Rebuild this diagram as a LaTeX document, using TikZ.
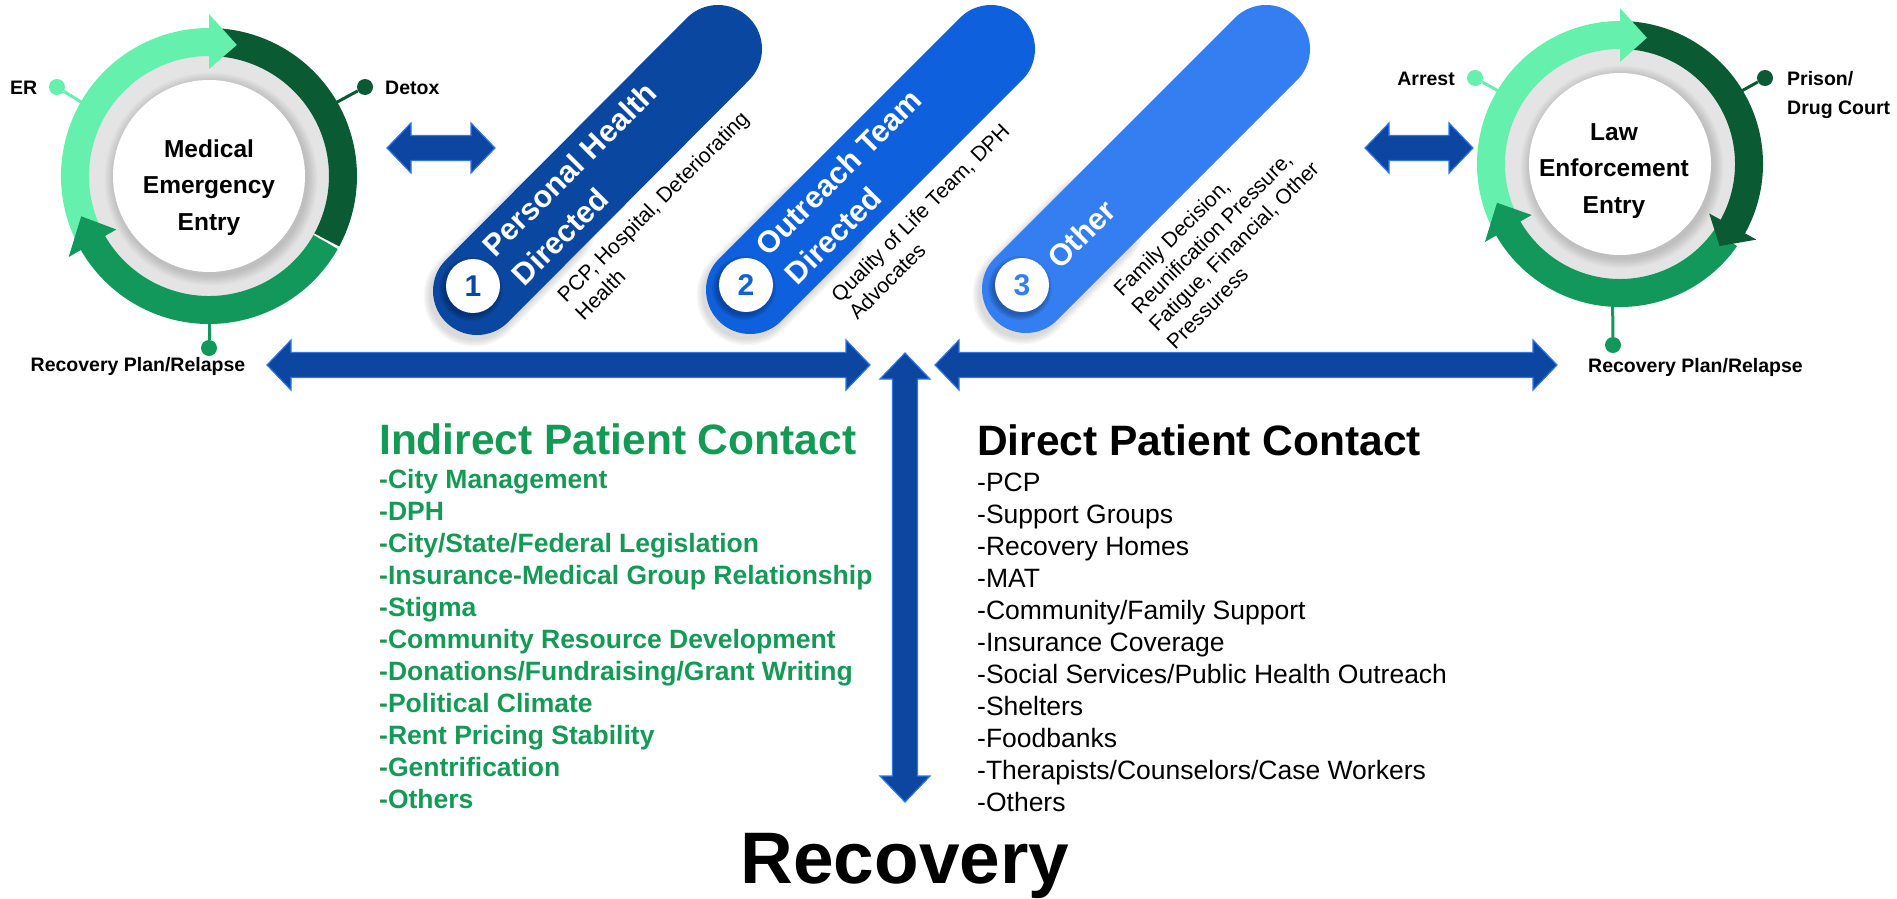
\documentclass[tikz,border=0pt]{standalone}
\usepackage{fontspec}
\setmainfont{Liberation Sans}
\usetikzlibrary{calc}
\definecolor{lgreen}{HTML}{66F0AE}
\definecolor{dgreen}{HTML}{0A5A34}
\definecolor{mgreen}{HTML}{12985A}
\definecolor{txtgreen}{HTML}{139A55}
\definecolor{pillA}{HTML}{0A47A1}
\definecolor{pillB}{HTML}{0E60DD}
\definecolor{pillC}{HTML}{347EF1}
\definecolor{arrowfill}{HTML}{0C46A0}
\definecolor{arrowline}{HTML}{2F74EA}
\definecolor{ringgray}{HTML}{E4E4E4}
\begin{document}
\begin{tikzpicture}[x=1pt,y=-1pt,
  bigarrow/.style={fill=arrowfill,draw=arrowline,line width=1.2pt,line join=miter},
  lbl/.style={inner sep=0pt,font=\fontsize{19.5}{22}\selectfont\bfseries},
  ctitle/.style={inner sep=0pt,anchor=base,font=\fontsize{24.5}{28}\selectfont\bfseries},
  ptitle/.style={inner sep=0pt,rotate=45,anchor=base west,text=white,font=\fontsize{30.5}{34}\selectfont\bfseries},
  pdesc/.style={inner sep=0pt,rotate=45,anchor=base west,font=\fontsize{21}{25}\selectfont},
  numdisc/.style={circle,fill=white,minimum size=54pt,inner sep=0pt,font=\fontsize{30}{34}\selectfont\bfseries},
  dotnode/.style={circle,inner sep=0pt,minimum size=16pt},
  glist/.style={inner sep=0pt,anchor=base west,text=txtgreen,font=\fontsize{26.5}{30}\selectfont\bfseries},
  dlist/.style={inner sep=0pt,anchor=base west,font=\fontsize{26.5}{30}\selectfont},
  ring/.style={line width=28pt}
]
\useasboundingbox (0,0) rectangle (1897,899);

%================ LEFT CIRCLE =================
\coordinate (LC) at (209,176);
\node[dotnode,fill=lgreen] (erdot) at (57,87) {};
\coordinate (erring) at ($(LC)+(210:146)$);
\draw[lgreen,line width=3pt] (erdot) -- (erring);
\node[dotnode,fill=dgreen] (dxdot) at (365,87) {};
\coordinate (dxring) at ($(LC)+(330:146)$);
\draw[dgreen,line width=3pt] (dxdot) -- (dxring);
\node[dotnode,fill=mgreen] (rldot) at (209,348) {};
\coordinate (rlring) at ($(LC)+(90:146)$);
\draw[mgreen,line width=3pt] (rldot) -- (rlring);

\fill[ringgray] (LC) circle[radius=121];
\foreach \k in {1,...,8} \fill[black,opacity=0.02] ($(LC)+(2,3)$) circle[radius={96+\k*1.3}];
\fill[white] (LC) circle[radius=96];

\draw[ring,lgreen] ($(LC)+(155:134)$) arc[start angle=155,end angle=271,radius=134];
\draw[ring,dgreen] ($(LC)+(274:134)$) arc[start angle=274,end angle=388.5,radius=134];
\draw[ring,mgreen] ($(LC)+(29.5:134)$) arc[start angle=29.5,end angle=151,radius=134];
\fill[lgreen] ($(LC)+(270:107)$) -- ($(LC)+(270:162)$) -- ($(LC)+(282:134)$) -- cycle;
\fill[mgreen] ($(LC)+(150:107)$) -- ($(LC)+(150:162)$) -- ($(LC)+(162.5:134)$) -- cycle;

\node[ctitle] (lt1) at (209,157) {Medical};
\node[ctitle] (lt2) at (209,193.5) {Emergency};
\node[ctitle] (lt3) at (209,230) {Entry};
\node[lbl,anchor=base west] (er) at (10,94) {ER};
\node[lbl,anchor=base west] (detox) at (385,94) {Detox};
\node[lbl,anchor=base] (rpl) at (138,371) {Recovery Plan/Relapse};

%================ RIGHT CIRCLE =================
\coordinate (RC) at (1620,164);
\node[dotnode,fill=lgreen] (ardot) at (1475,78) {};
\coordinate (arring) at ($(RC)+(211:141)$);
\draw[lgreen,line width=3pt] (ardot) -- (arring);
\node[dotnode,fill=dgreen] (prdot) at (1765,78) {};
\coordinate (prring) at ($(RC)+(329:141)$);
\draw[dgreen,line width=3pt] (prdot) -- (prring);
\node[dotnode,fill=mgreen] (rrdot) at (1613,345) {};
\coordinate (rrring) at ($(RC)+(93:141)$);
\draw[mgreen,line width=3pt] (rrdot) -- (rrring);

\fill[ringgray] (RC) circle[radius=116];
\foreach \k in {1,...,8} \fill[black,opacity=0.02] ($(RC)+(2,3)$) circle[radius={91+\k*1.3}];
\fill[white] (RC) circle[radius=91];

\draw[ring,lgreen] ($(RC)+(155:129)$) arc[start angle=155,end angle=271,radius=129];
\draw[ring,mgreen] ($(RC)+(35:129)$) arc[start angle=35,end angle=151,radius=129];
\draw[ring,dgreen] ($(RC)+(274:129)$) arc[start angle=274,end angle=389.5,radius=129];
\fill[lgreen] ($(RC)+(270:102)$) -- ($(RC)+(270:156)$) -- ($(RC)+(282:129)$) -- cycle;
\fill[mgreen] ($(RC)+(150:102)$) -- ($(RC)+(150:156)$) -- ($(RC)+(162.5:129)$) -- cycle;
\fill[dgreen] ($(RC)+(29:102)$) -- ($(RC)+(29:156)$) -- ($(RC)+(39.5:129)$) -- cycle;

\node[ctitle] (rt1) at (1614,140) {Law};
\node[ctitle] (rt2) at (1614,176.5) {Enforcement};
\node[ctitle] (rt3) at (1614,213) {Entry};
\node[lbl,anchor=base east] (arrest) at (1455,85) {Arrest};
\node[lbl,anchor=base west] (prison) at (1787,85) {Prison/};
\node[lbl,anchor=base west] (drug) at (1787,114) {Drug Court};
\node[lbl,anchor=base west] (rpr) at (1588,372) {Recovery Plan/Relapse};

%================ PILLS =================
\coordinate (p1a) at (477,291); \coordinate (p1b) at (718,49);
\coordinate (p2a) at (750,290); \coordinate (p2b) at (991,49);
\coordinate (p3a) at (1026,289); \coordinate (p3b) at (1266,49);
\foreach \p in {p1,p2,p3}{
  \foreach \k in {1,...,5}
    \draw[black,opacity=0.03,line width={86+3*\k},line cap=round]
      ($(\p a)+(-3,5)$) -- ($(\p a)!0.3!(\p b)+(-3,5)$);
}
\draw[pillA,line width=88pt,line cap=round] (p1a) -- (p1b);
\draw[pillB,line width=88pt,line cap=round] (p2a) -- (p2b);
\draw[pillC,line width=88pt,line cap=round] (p3a) -- (p3b);

\foreach \c in {(471,289),(744,288),(1020,288)}
  \foreach \k in {1,...,5} \fill[black,opacity=0.06] \c circle[radius={26+\k*1.2}];
\node[numdisc,text=pillA] (n1) at (473,286) {1};
\node[numdisc,text=pillB] (n2) at (746,285) {2};
\node[numdisc,text=pillC] (n3) at (1022,285) {3};

\node[ptitle] (t1a) at ($(p1a)+(-45:36)+(45:-10)$) {Personal Health};
\node[ptitle] (t1b) at ($(p1a)+(-45:36)+(45:31)$) {Directed};
\node[ptitle] (t2a) at ($(p2a)+(-45:36)+(45:-10)$) {Outreach Team};
\node[ptitle] (t2b) at ($(p2a)+(-45:36)+(45:31)$) {Directed};
\node[ptitle] (t3a) at ($(p3a)+(-45:37)+(45:11)$) {Other};

\node[pdesc] (d1a) at ($(p1a)+(-45:54)+(45:72)$) {PCP, Hospital, Deteriorating};
\node[pdesc] (d1b) at ($(p1a)+(-45:54)+(45:97)$) {Health};
\node[pdesc] (d2a) at ($(p2a)+(-45:54)+(45:73)$) {Quality of Life Team, DPH};
\node[pdesc] (d2b) at ($(p2a)+(-45:54)+(45:98)$) {Advocates};
\node[pdesc] (d3a) at ($(p3a)+(-45:62)+(45:74)$) {Family Decision,};
\node[pdesc] (d3b) at ($(p3a)+(-45:62)+(45:99)$) {Reunification Pressure,};
\node[pdesc] (d3c) at ($(p3a)+(-45:62)+(45:124)$) {Fatigue, Financial, Other};
\node[pdesc] (d3d) at ($(p3a)+(-45:62)+(45:149)$) {Pressuress};

%================ ARROWS =================
\coordinate (saL) at (387,148);
\filldraw[bigarrow] (saL) -- ++(24,-25) -- ++(0,12.5) -- ++(60,0) -- ++(0,-12.5) -- ++(24,25)
  -- ++(-24,25) -- ++(0,-12.5) -- ++(-60,0) -- ++(0,12.5) -- cycle;
\coordinate (saR) at (1365,148);
\filldraw[bigarrow] (saR) -- ++(24,-25) -- ++(0,12.5) -- ++(60,0) -- ++(0,-12.5) -- ++(24,25)
  -- ++(-24,25) -- ++(0,-12.5) -- ++(-60,0) -- ++(0,12.5) -- cycle;
\coordinate (haL) at (267,365);
\filldraw[bigarrow] (haL) -- ++(24,-25) -- ++(0,12.5) -- ++(555,0) -- ++(0,-12.5) -- ++(24,25)
  -- ++(-24,25) -- ++(0,-12.5) -- ++(-555,0) -- ++(0,12.5) -- cycle;
\coordinate (haR) at (935,365);
\filldraw[bigarrow] (haR) -- ++(24,-25) -- ++(0,12.5) -- ++(574,0) -- ++(0,-12.5) -- ++(24,25)
  -- ++(-24,25) -- ++(0,-12.5) -- ++(-574,0) -- ++(0,12.5) -- cycle;
\coordinate (va) at (905,353);
\filldraw[bigarrow] (va) -- ++(25,26) -- ++(-12.5,0) -- ++(0,397) -- ++(12.5,0) -- ++(-25,26)
  -- ++(-25,-26) -- ++(12.5,0) -- ++(0,-397) -- ++(-12.5,0) -- cycle;

%================ LISTS =================
\node[glist,font=\fontsize{42.5}{46}\selectfont\bfseries] (gtitle) at (379,454) {Indirect Patient Contact};
\foreach \t [count=\i] in {{-City Management},{-DPH},{-City/State/Federal Legislation},
  {-Insurance-Medical Group Relationship},{-Stigma},{-Community Resource Development},
  {-Donations/Fundraising/Grant Writing},{-Political Climate},{-Rent Pricing Stability},
  {-Gentrification},{-Others}}
  \node[glist] (g\i) at (379,{488+32*(\i-1)}) {\t};

\node[dlist,font=\fontsize{42.5}{46}\selectfont\bfseries] (dtitle) at (977,455) {Direct Patient Contact};
\foreach \t [count=\i] in {{-PCP},{-Support Groups},{-Recovery Homes},{-MAT},
  {-Community/Family Support},{-Insurance Coverage},{-Social Services/Public Health Outreach},
  {-Shelters},{-Foodbanks},{-Therapists/Counselors/Case Workers},{-Others}}
  \node[dlist] (dl\i) at (977,{491+32*(\i-1)}) {\t};

\node[inner sep=0pt,anchor=base,font=\fontsize{73}{80}\selectfont\bfseries] (rec) at (905,883) {Recovery};
\end{tikzpicture}
\end{document}
